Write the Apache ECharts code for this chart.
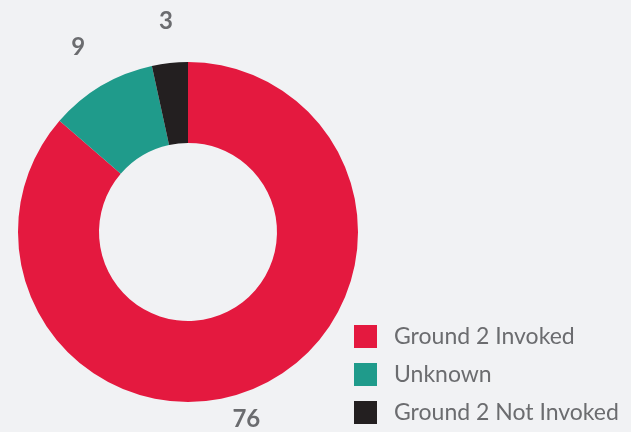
<!DOCTYPE html>
<html>
<head>
<meta charset="utf-8">
<script src="https://cdn.jsdelivr.net/npm/echarts@6/dist/echarts.min.js"></script>
<style>
  html, body { margin: 0; padding: 0; background: #f1f2f4; }
  #main { width: 631px; height: 432px; }
</style>
</head>
<body>
<div id="main"></div>
<script>
var categories = ['Ground 2 Invoked', 'Unknown', 'Ground 2 Not Invoked'];
var values = [76, 9, 3];
var colors = ['#e4193f', '#1f9b8b', '#231f20'];

var chart = echarts.init(document.getElementById('main'));

var pieData = categories.map(function (name, i) {
    return { name: name, value: values[i], itemStyle: { color: colors[i] } };
});

var option = {
    backgroundColor: '#f1f2f4',
    animation: false,
    legend: {
        orient: 'vertical',
        left: 354,
        top: 325,
        padding: 0,
        icon: 'rect',
        itemWidth: 23,
        itemHeight: 23,
        itemGap: 15,
        selectedMode: false,
        textStyle: {
            fontFamily: 'Lato',
            fontSize: 23,
            color: '#6b6c6f',
            padding: [2, 0, 0, 12]
        },
        data: categories
    },
    series: [{
        type: 'pie',
        center: [188, 232],
        radius: [89, 170],
        startAngle: 90,
        clockwise: true,
        label: {
            show: true,
            position: 'outside',
            formatter: '{c}',
            fontFamily: 'Lato',
            fontSize: 24,
            fontWeight: 'bold',
            color: '#6b6c6f'
        },
        labelLine: { show: false, length: 45, length2: 0 },
        labelLayout: function (params) {
            // nudge labels to sit where the original puts them
            if (params.dataIndex === 0) {
                return { align: 'center', dx: -36, dy: -8 };
            }
            if (params.dataIndex === 2) {
                return { align: 'center', dx: 6, dy: 3 };
            }
            return { align: 'center', dx: 5 };
        },
        emphasis: { disabled: true },
        data: pieData
    }]
};

chart.setOption(option);
</script>
</body>
</html>
